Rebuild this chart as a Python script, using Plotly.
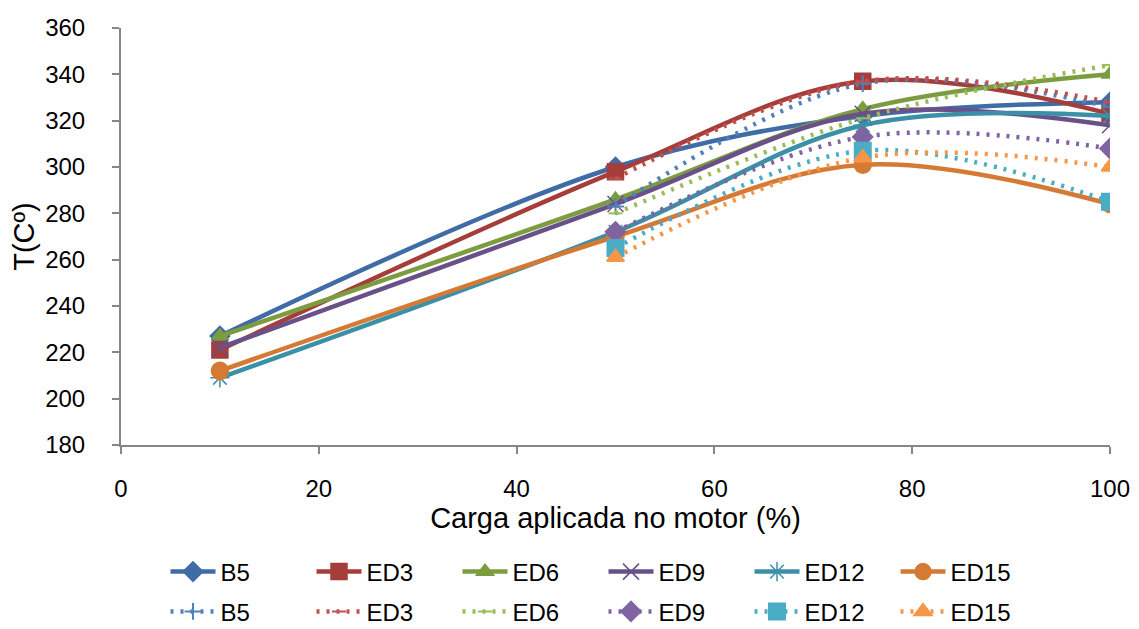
import plotly.graph_objects as go

names = ["B5", "ED3", "ED6", "ED9", "ED12", "ED15"]
load_solid = [10, 50, 75, 100]
load_dot = [50, 75, 100]

solid_vals = {
    "B5":   [227, 300, 322, 328],
    "ED3":  [221, 298, 337, 323],
    "ED6":  [227, 286, 325, 340],
    "ED9":  [222, 284, 323, 318],
    "ED12": [209, 272, 318, 322],
    "ED15": [212, 270, 301, 284],
}
dot_vals = {
    "B5":   [283, 336, 326],
    "ED3":  [295, 337, 328],
    "ED6":  [280, 321, 344],
    "ED9":  [272, 313, 308],
    "ED12": [265, 307, 285],
    "ED15": [261, 304, 300],
}

solid_colors = ["#3F6CA6", "#A53E3B", "#7C9C40", "#6A5089", "#3B90A8", "#D47A35"]
dot_colors = ["#4F81BD", "#C0504D", "#9BBB59", "#8064A2", "#4BACC6", "#F79646"]
solid_symbols = ["diamond", "square", "triangle-up", "x-thin-open", "asterisk-open", "circle"]
solid_sizes = [15, 16, 15, 16, 16, 17]
dot_symbols = ["cross-thin-open", "line-ew-open", "line-ew-open", "diamond", "square", "triangle-up"]
dot_sizes = [12, 10, 10, 15, 16, 15]

fig = go.Figure()
for i, n in enumerate(names):
    fig.add_trace(go.Scatter(
        x=load_solid, y=solid_vals[n], name=n, mode="lines+markers",
        line=dict(color=solid_colors[i], width=4.5, shape="spline", smoothing=1.0),
        marker=dict(symbol=solid_symbols[i], size=solid_sizes[i], color=solid_colors[i],
                    line=dict(color=solid_colors[i], width=1.5)),
        legend="legend",
    ))
for i, n in enumerate(names):
    fig.add_trace(go.Scatter(
        x=load_dot, y=dot_vals[n], name=n, mode="lines+markers",
        line=dict(color=dot_colors[i], width=4.5, shape="spline", smoothing=1.0, dash="3px,7px"),
        marker=dict(symbol=dot_symbols[i], size=dot_sizes[i], color=dot_colors[i],
                    line=dict(color=dot_colors[i], width=2)),
        legend="legend2",
    ))

FAM = "Liberation Sans, Arial, sans-serif"
leg_common = dict(orientation="h", xanchor="left", yanchor="middle",
                  entrywidth=86, entrywidthmode="pixels", itemwidth=45,
                  font=dict(family=FAM, size=24, color="#000000"), tracegroupgap=0,
                  bgcolor="rgba(0,0,0,0)")
fig.update_layout(
    width=1139, height=629,
    margin=dict(l=121, r=29, t=28, b=184, autoexpand=False),
    paper_bgcolor="white", plot_bgcolor="white",
    font=dict(family=FAM, size=24, color="#000000"),
    showlegend=True,
    legend=dict(x=0.045, y=-0.3046, **leg_common),
    legend2=dict(x=0.045, y=-0.400, **leg_common),
    xaxis=dict(range=[0, 100], dtick=20, tick0=0, showgrid=False, zeroline=False,
               showline=True, linecolor="#868686", linewidth=2,
               ticks="outside", ticklen=7, tickcolor="#868686", tickwidth=2,
               ticklabelstandoff=14,
               title=dict(text="Carga aplicada no motor (%)", standoff=4)),
    yaxis=dict(range=[180, 360], dtick=20, tick0=180, showgrid=False, zeroline=False,
               showline=True, linecolor="#868686", linewidth=2,
               ticks="outside", ticklen=7, tickcolor="#868686", tickwidth=2,
               ticklabelstandoff=22,
               title=dict(text="T(Cº)", standoff=2)),
)
fig.write_html("out.html")
